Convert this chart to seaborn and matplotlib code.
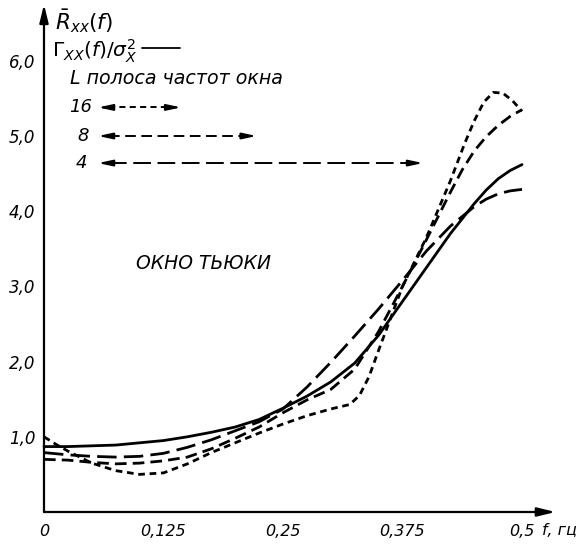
import matplotlib
matplotlib.use("Agg")
import matplotlib.pyplot as plt
import seaborn as sns
import pandas as pd

# ---------------- data ----------------
f_true = [0, 0.025, 0.05, 0.075, 0.1, 0.125, 0.15, 0.175, 0.2, 0.225, 0.25,
          0.275, 0.3, 0.325, 0.35, 0.375, 0.4, 0.425, 0.45, 0.4625, 0.475,
          0.4875, 0.5]
r_true = [0.87, 0.87, 0.88, 0.89, 0.92, 0.95, 1.0, 1.06, 1.13, 1.23, 1.38,
          1.54, 1.73, 1.98, 2.35, 2.8, 3.25, 3.7, 4.1, 4.28, 4.43,
          4.54, 4.62]

f_l4 = [0, 0.025, 0.05, 0.075, 0.1, 0.125, 0.15, 0.175, 0.2, 0.225, 0.25,
        0.275, 0.3, 0.325, 0.35, 0.375, 0.4, 0.425, 0.45, 0.4625, 0.475,
        0.4875, 0.5]
r_l4 = [0.79, 0.76, 0.74, 0.73, 0.74, 0.78, 0.86, 0.96, 1.08, 1.2, 1.37,
        1.66, 1.99, 2.34, 2.7, 3.08, 3.47, 3.8, 4.06, 4.16, 4.23,
        4.27, 4.29]

f_l8 = [0, 0.025, 0.05, 0.075, 0.1, 0.125, 0.15, 0.175, 0.2, 0.225, 0.25,
        0.275, 0.3, 0.325, 0.35, 0.375, 0.4, 0.425, 0.4375, 0.45, 0.4625,
        0.475, 0.4875, 0.5]
r_l8 = [0.7, 0.69, 0.66, 0.64, 0.65, 0.68, 0.73, 0.84, 0.98, 1.13, 1.32,
        1.49, 1.63, 1.9, 2.4, 3.0, 3.62, 4.25, 4.55, 4.8, 4.99,
        5.14, 5.26, 5.35]

f_l16 = [0, 0.0125, 0.025, 0.05, 0.075, 0.1, 0.125, 0.15, 0.175, 0.2, 0.225,
         0.25, 0.275, 0.3, 0.31, 0.32, 0.33, 0.34, 0.35, 0.375, 0.4, 0.425,
         0.44, 0.45, 0.46, 0.47, 0.48, 0.49, 0.5]
r_l16 = [1.0, 0.9, 0.81, 0.65, 0.55, 0.5, 0.52, 0.64, 0.79, 0.92, 1.05,
         1.17, 1.28, 1.37, 1.4, 1.43, 1.55, 1.8, 2.15, 3.0, 3.65, 4.4,
         4.9, 5.2, 5.45, 5.58, 5.57, 5.47, 5.33]

series_names = ["true", "4", "8", "16"]
x_ticks = [0, 0.125, 0.25, 0.375, 0.5]
x_tick_labels = ["0", "0,125", "0,25", "0,375", "0,5"]
y_ticks = [1, 2, 3, 4, 5, 6]
y_tick_labels = ["1,0", "2,0", "3,0", "4,0", "5,0", "6,0"]
legend_L = ["16", "8", "4"]
legend_span = [0.087, 0.166, 0.340]   # bandwidth arrows (in f units)

frames = []
for name, fx, ry in [("true", f_true, r_true), ("4", f_l4, r_l4),
                     ("8", f_l8, r_l8), ("16", f_l16, r_l16)]:
    frames.append(pd.DataFrame({"f": fx, "R": ry, "L": name}))
df = pd.concat(frames, ignore_index=True)

# ---------------- style ----------------
sns.set_theme(style="white")
plt.rcParams["font.family"] = ["DejaVu Sans"]
plt.rcParams["mathtext.fontset"] = "dejavusans"
plt.rcParams["text.color"] = "black"
plt.rcParams["xtick.color"] = "black"
plt.rcParams["ytick.color"] = "black"

fig = plt.figure(figsize=(5.85, 5.49), dpi=100)
ax = fig.add_axes([0.0752, 0.0674, 0.8743, 0.9246])

dashes = {"true": "", "4": (7, 2.6), "8": (4.2, 2.2), "16": (2.4, 1.7)}
palette = {k: "black" for k in series_names}
sns.lineplot(data=df, x="f", y="R", hue="L", style="L", dashes=dashes,
             palette=palette, linewidth=2.0, legend=False, sort=True,
             estimator=None, ax=ax, clip_on=False)

ax.set_xlim(0, 0.535)
ax.set_ylim(0, 6.75)
for s in ax.spines.values():
    s.set_visible(False)

# axes with arrows
arrow_kw = dict(arrowstyle="-|>,head_length=0.9,head_width=0.22", color="black",
                lw=1.6, shrinkA=0, shrinkB=0)
ax.annotate("", xy=(0.535, 0), xytext=(0, 0), xycoords="data",
            arrowprops=arrow_kw, annotation_clip=False)
ax.annotate("", xy=(0, 6.75), xytext=(0, 0), xycoords="data",
            arrowprops=arrow_kw, annotation_clip=False)

ax.set_xticks(x_ticks)
ax.set_xticklabels(x_tick_labels, fontstyle="italic", fontsize=11.5)
ax.set_yticks(y_ticks)
ax.set_yticklabels(y_tick_labels, fontstyle="italic", fontsize=12)
ax.tick_params(axis="both", direction="in", length=6, width=1.0,
               colors="black", pad=6)
ax.tick_params(axis="x", pad=9)
ax.set_xlabel("")
ax.set_ylabel("")

ax.text(0.521, -0.25, "f, гц", fontsize=11.5, fontstyle="italic",
        ha="left", va="center", clip_on=False)

# labels
ax.text(0.011, 6.53, r"$\bar{R}_{xx}(f)$", fontsize=15.5, ha="left",
        va="center")
ax.text(0.008, 6.12, r"$\Gamma_{XX}(f)/\sigma_X^2$", fontsize=14.5,
        ha="left", va="center")
ax.plot([0.1025, 0.142], [6.17, 6.17], color="black", lw=1.3)
ax.text(0.027, 5.76, "L полоса частот окна", fontsize=13.7,
        fontstyle="italic", ha="left", va="center")

y_arr = [5.38, 5.0, 4.64]
lab_x = [0.026, 0.0345, 0.0335]
styles = [dashes["16"], dashes["8"], dashes["4"]]
for lab, span, yy, lx, dsh in zip(legend_L, legend_span, y_arr, lab_x, styles):
    ax.text(lx, yy, lab, fontsize=13, fontstyle="italic", ha="left",
            va="center")
    x0 = 0.0565
    x1 = x0 + span
    ax.plot([x0 + 0.011, x1 - 0.011], [yy, yy], color="black", lw=1.4,
            dashes=(dsh[0] * 1.3, dsh[1] * 1.3))
    hk = dict(arrowstyle="-|>,head_length=0.7,head_width=0.15",
              color="black", lw=1.4, shrinkA=0, shrinkB=0)
    ax.annotate("", xy=(x0, yy), xytext=(x0 + 0.015, yy), arrowprops=hk)
    ax.annotate("", xy=(x1, yy), xytext=(x1 - 0.015, yy), arrowprops=hk)

ax.text(0.096, 3.3, "ОКНО ТЬЮКИ", fontsize=13.5, fontstyle="italic",
        ha="left", va="center")

fig.savefig("out.png", dpi=100, facecolor="white")
